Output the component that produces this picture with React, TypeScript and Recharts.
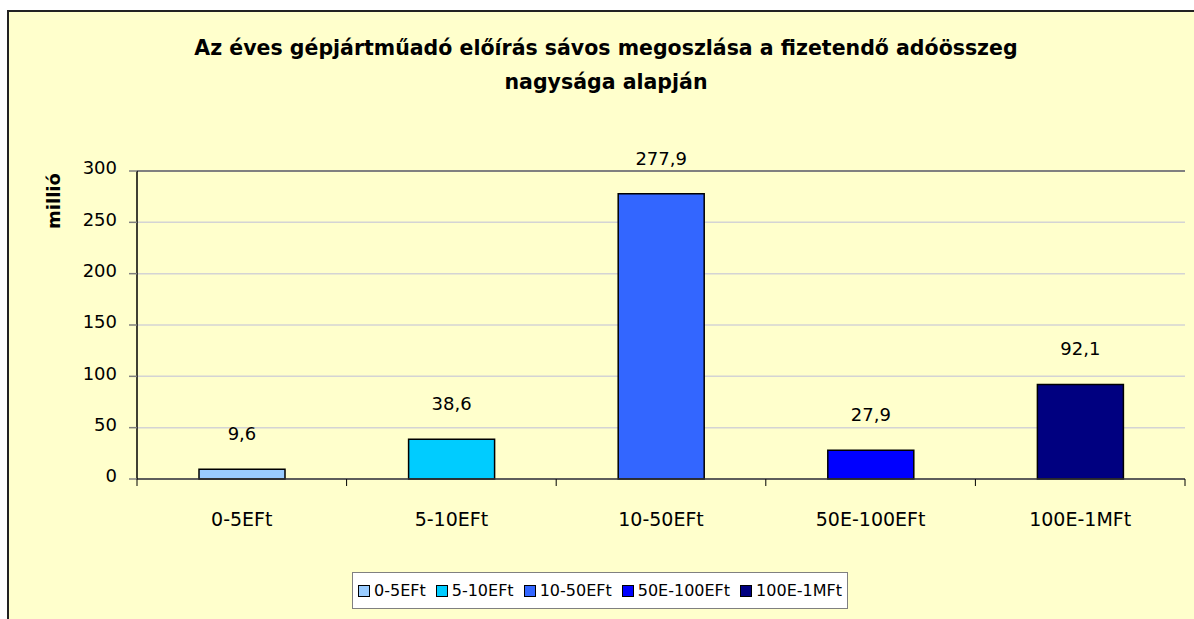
import React from 'react'
import {
  BarChart,
  Bar,
  Cell,
  XAxis,
  YAxis,
  CartesianGrid,
  LabelList,
  ReferenceLine,
  Label
} from 'recharts'

const categories = ['0-5EFt', '5-10EFt', '10-50EFt', '50E-100EFt', '100E-1MFt']
const values = [9.6, 38.6, 277.9, 27.9, 92.1]
const yTicks = [0, 50, 100, 150, 200, 250, 300]
const barColors = ['#99CCFF', '#00CCFF', '#3366FF', '#0000FF', '#000080']

const data = categories.map((name, i) => ({ name, value: values[i] }))

const W = 1194
const H = 619
const PLOT_LEFT = 137
const PLOT_RIGHT = 1185
const PLOT_TOP = 171
const PLOT_BOTTOM = 479
const Y_AXIS_W = 60
const X_AXIS_H = 40
const X_TICK_SIZE = 7
const X_TICK_MARGIN = 27
const FONT = '"DejaVu Sans", sans-serif'

const band = (PLOT_RIGHT - PLOT_LEFT) / categories.length

const formatHu = (v: number) => v.toFixed(1).replace('.', ',')

const CategoryTick = ({ x, y, payload, index }: any) => {
  const axisY = y - X_TICK_SIZE - X_TICK_MARGIN
  const left = x - band / 2
  const right = x + band / 2
  return (
    <g>
      <line x1={left} y1={axisY} x2={left} y2={axisY + X_TICK_SIZE} stroke="#000" strokeWidth={1} />
      {index === categories.length - 1 && (
        <line x1={right} y1={axisY} x2={right} y2={axisY + X_TICK_SIZE} stroke="#000" strokeWidth={1} />
      )}
      <text x={x} y={y} dy="0.71em" textAnchor="middle" fontSize={19} fill="#000" fontFamily={FONT}>
        {payload.value}
      </text>
    </g>
  )
}

const LegendBox = () => (
  <div
    style={{
      position: 'absolute',
      left: 352,
      top: 572,
      width: 496,
      height: 37,
      boxSizing: 'border-box',
      background: '#fff',
      border: '1.5px solid #808080',
      display: 'flex',
      alignItems: 'center',
      justifyContent: 'center',
      gap: 10,
      fontFamily: FONT,
      fontSize: 16,
      color: '#000'
    }}
  >
    {categories.map((c, i) => (
      <div key={c} style={{ display: 'flex', alignItems: 'center', gap: 4 }}>
        <span
          style={{
            display: 'inline-block',
            width: 10,
            height: 10,
            background: barColors[i],
            border: '1px solid #000'
          }}
        />
        <span>{c}</span>
      </div>
    ))}
  </div>
)

export default function App() {
  return (
    <div style={{ position: 'fixed', left: 0, top: 0, width: W, height: H, overflow: 'hidden', background: '#fff' }}>
      <div
        style={{
          position: 'absolute',
          left: 7,
          top: 10,
          width: 1210,
          height: 640,
          background: '#FFFFCC',
          border: '2px solid #222'
        }}
      />
      <div
        style={{
          position: 'absolute',
          left: 9,
          top: 31,
          width: 1194,
          textAlign: 'center',
          fontFamily: FONT,
          fontWeight: 'bold',
          fontSize: 20.5,
          lineHeight: '34px',
          color: '#000'
        }}
      >
        Az éves gépjártműadó előírás sávos megoszlása a fizetendő adóösszeg
        <br />
        nagysága alapján
      </div>

      <div style={{ position: 'absolute', left: 0, top: 0 }}>
        <BarChart
          width={W}
          height={H}
          data={data}
          margin={{
            top: PLOT_TOP,
            right: W - PLOT_RIGHT,
            left: PLOT_LEFT - Y_AXIS_W,
            bottom: H - PLOT_BOTTOM - X_AXIS_H
          }}
        >
          <CartesianGrid horizontal vertical={false} stroke="#d4d4d4" strokeWidth={1.5} />
          <XAxis
            dataKey="name"
            height={X_AXIS_H}
            axisLine={{ stroke: '#333', strokeWidth: 1.5 }}
            tickLine={false}
            tickSize={X_TICK_SIZE}
            tickMargin={X_TICK_MARGIN}
            interval={0}
            tick={<CategoryTick />}
          />
          <YAxis
            width={Y_AXIS_W}
            domain={[0, 300]}
            ticks={yTicks}
            interval={0}
            axisLine={{ stroke: '#000', strokeWidth: 1.5 }}
            tickLine={{ stroke: '#808080', strokeWidth: 1.5 }}
            tickSize={8}
            tickMargin={12}
            tick={{ fontSize: 18, fill: '#000', fontFamily: FONT, dy: -3 }}
          >
            <Label
              content={() => (
                <text
                  x={60}
                  y={201}
                  transform="rotate(-90 60 201)"
                  textAnchor="middle"
                  fontSize={18}
                  fontWeight="bold"
                  fontFamily={FONT}
                  fill="#000"
                >
                  millió
                </text>
              )}
            />
          </YAxis>
          <YAxis
            yAxisId="frame"
            orientation="right"
            width={0}
            domain={[0, 300]}
            tick={false}
            tickLine={false}
            axisLine={{ stroke: '#808080', strokeWidth: 2 }}
          />
          <ReferenceLine y={300} stroke="#808080" strokeWidth={2} />
          <Bar dataKey="value" barSize={86} stroke="#000" strokeWidth={1.5} isAnimationActive={false}>
            {data.map((d, i) => (
              <Cell key={d.name} fill={barColors[i]} />
            ))}
            <LabelList
              dataKey="value"
              position="top"
              offset={29}
              formatter={(v: any) => formatHu(Number(v))}
              style={{ fontSize: 18, fill: '#000', fontFamily: FONT }}
            />
          </Bar>
        </BarChart>
      </div>

      <LegendBox />
    </div>
  )
}
